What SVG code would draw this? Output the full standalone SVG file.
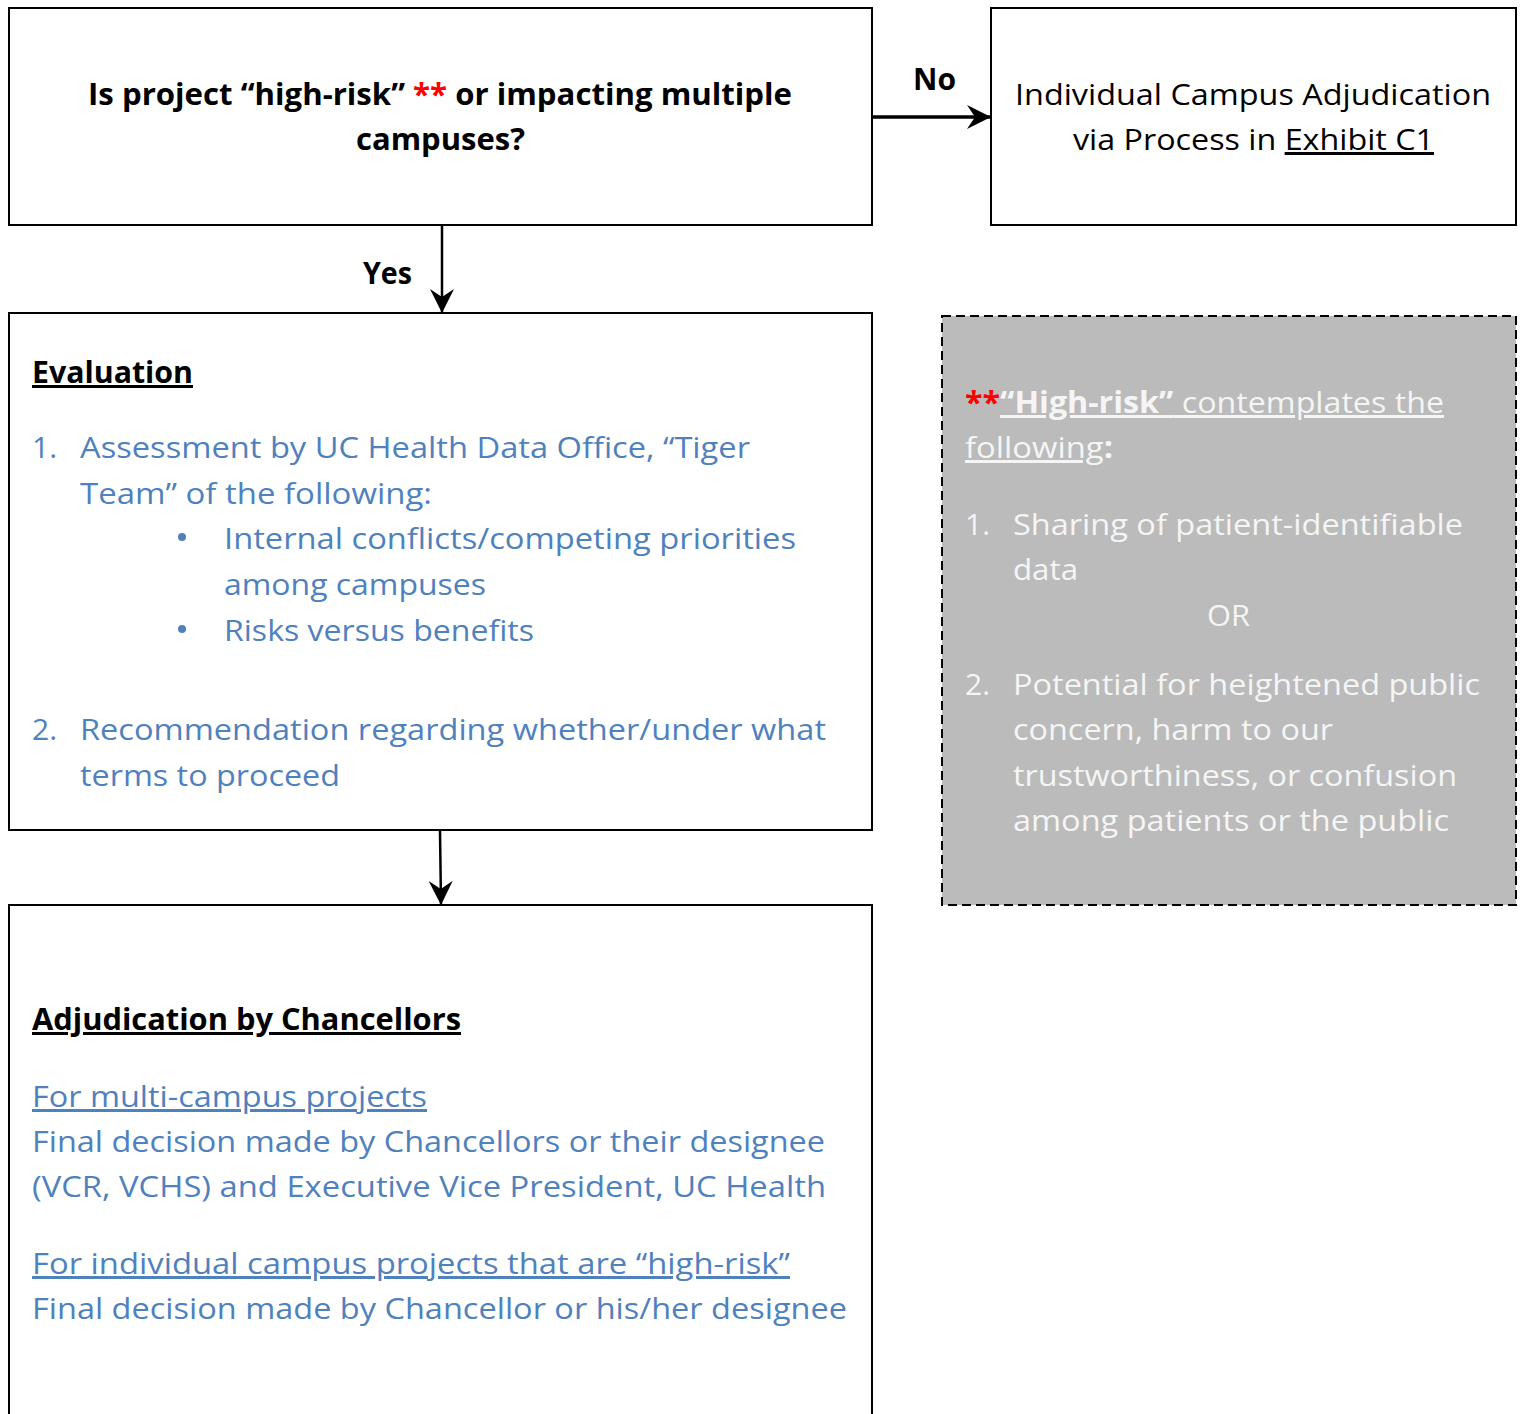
<svg xmlns="http://www.w3.org/2000/svg" width="1522" height="1414" viewBox="0 0 1522 1414">
<style>
text{font-family:"Open Sans","Noto Sans","Liberation Sans",sans-serif;font-size:30px}
.box{fill:#ffffff;stroke:#000000;stroke-width:2}
.note{fill:#bbbbbb;stroke:#000000;stroke-width:2;stroke-dasharray:9 5}
.b{font-weight:bold;fill:#000000}
.blk{fill:#000000}
.blue{fill:#4f81bd}
.wh{fill:#f5f5f5}
.red{fill:#ff0000;font-weight:bold}
.u{text-decoration:underline}
.conn{stroke:#000000;stroke-width:3;fill:none}
</style>
<defs>
<marker id="arr" viewBox="0 0 24 24" refX="23" refY="12" markerWidth="24" markerHeight="24" markerUnits="userSpaceOnUse" orient="auto">
<path d="M0,0 L24,12 L0,24 L8,12 z" fill="#000000"/>
</marker>
</defs>
<g id="connectors">
<line class="conn" x1="873" y1="117" x2="990" y2="117" marker-end="url(#arr)" style="stroke-width:3.5"/>
<line class="conn" x1="442" y1="226" x2="442" y2="312" marker-end="url(#arr)" style="stroke-width:2.5"/>
<line class="conn" x1="440" y1="831" x2="441" y2="904" marker-end="url(#arr)" style="stroke-width:2.5"/>
<text class="b" x="913" y="90" textLength="43" lengthAdjust="spacingAndGlyphs">No</text>
<text class="b" x="363" y="284" textLength="49" lengthAdjust="spacingAndGlyphs">Yes</text>
</g>
<g id="decision">
<rect class="box" x="9" y="8" width="863" height="217"/>
<text class="b" x="88" y="105" textLength="704" lengthAdjust="spacingAndGlyphs">Is project “high-risk” <tspan class="red">**</tspan> or impacting multiple</text>
<text class="b" x="356" y="150" textLength="169" lengthAdjust="spacingAndGlyphs">campuses?</text>
</g>
<g id="individual">
<rect class="box" x="991" y="8" width="525" height="217"/>
<text class="blk" x="1015" y="105" textLength="476" lengthAdjust="spacingAndGlyphs">Individual Campus Adjudication</text>
<text class="blk" x="1073" y="150" textLength="361" lengthAdjust="spacingAndGlyphs">via Process in <tspan class="u">Exhibit C1</tspan></text>
</g>
<g id="evaluation">
<rect class="box" x="9" y="313" width="863" height="517"/>
<text class="b u" x="32" y="383" textLength="161" lengthAdjust="spacingAndGlyphs">Evaluation</text>
<text class="blue" x="32" y="458">1.</text>
<text class="blue" x="80" y="458" textLength="670" lengthAdjust="spacingAndGlyphs">Assessment by UC Health Data Office, “Tiger</text>
<text class="blue" x="80" y="504" textLength="352" lengthAdjust="spacingAndGlyphs">Team” of the following:</text>
<circle cx="182" cy="537" r="4" fill="#4f81bd"/>
<text class="blue" x="224" y="549" textLength="572" lengthAdjust="spacingAndGlyphs">Internal conflicts/competing priorities</text>
<text class="blue" x="224" y="595" textLength="262" lengthAdjust="spacingAndGlyphs">among campuses</text>
<circle cx="182" cy="629" r="4" fill="#4f81bd"/>
<text class="blue" x="224" y="641" textLength="310" lengthAdjust="spacingAndGlyphs">Risks versus benefits</text>
<text class="blue" x="32" y="740">2.</text>
<text class="blue" x="80" y="740" textLength="746" lengthAdjust="spacingAndGlyphs">Recommendation regarding whether/under what</text>
<text class="blue" x="80" y="786" textLength="260" lengthAdjust="spacingAndGlyphs">terms to proceed</text>
</g>
<g id="highrisk-note">
<rect class="note" x="942" y="316" width="574" height="589"/>
<text class="wh" x="965" y="413" textLength="479" lengthAdjust="spacingAndGlyphs"><tspan class="red">**</tspan><tspan class="u" font-weight="bold">“High-risk”</tspan><tspan class="u"> contemplates the</tspan></text>
<text class="wh" x="965" y="458" textLength="148" lengthAdjust="spacingAndGlyphs"><tspan class="u">following</tspan><tspan font-weight="bold">:</tspan></text>
<text class="wh" x="965" y="535">1.</text>
<text class="wh" x="1013" y="535" textLength="450" lengthAdjust="spacingAndGlyphs">Sharing of patient-identifiable</text>
<text class="wh" x="1013" y="580" textLength="65" lengthAdjust="spacingAndGlyphs">data</text>
<text class="wh" x="1207" y="626" textLength="43" lengthAdjust="spacingAndGlyphs">OR</text>
<text class="wh" x="965" y="695">2.</text>
<text class="wh" x="1013" y="695" textLength="467" lengthAdjust="spacingAndGlyphs">Potential for heightened public</text>
<text class="wh" x="1013" y="740" textLength="320" lengthAdjust="spacingAndGlyphs">concern, harm to our</text>
<text class="wh" x="1013" y="786" textLength="444" lengthAdjust="spacingAndGlyphs">trustworthiness, or confusion</text>
<text class="wh" x="1013" y="831" textLength="436" lengthAdjust="spacingAndGlyphs">among patients or the public</text>
</g>
<g id="adjudication">
<rect class="box" x="9" y="905" width="863" height="520"/>
<text class="b u" x="32" y="1030" textLength="429" lengthAdjust="spacingAndGlyphs">Adjudication by Chancellors</text>
<text class="blue u" x="32" y="1107" textLength="395" lengthAdjust="spacingAndGlyphs">For multi-campus projects</text>
<text class="blue" x="32" y="1152" textLength="793" lengthAdjust="spacingAndGlyphs">Final decision made by Chancellors or their designee</text>
<text class="blue" x="32" y="1197" textLength="794" lengthAdjust="spacingAndGlyphs">(VCR, VCHS) and Executive Vice President, UC Health</text>
<text class="blue u" x="32" y="1274" textLength="758" lengthAdjust="spacingAndGlyphs">For individual campus projects that are “high-risk”</text>
<text class="blue" x="32" y="1319" textLength="815" lengthAdjust="spacingAndGlyphs">Final decision made by Chancellor or his/her designee</text>
</g>
</svg>
